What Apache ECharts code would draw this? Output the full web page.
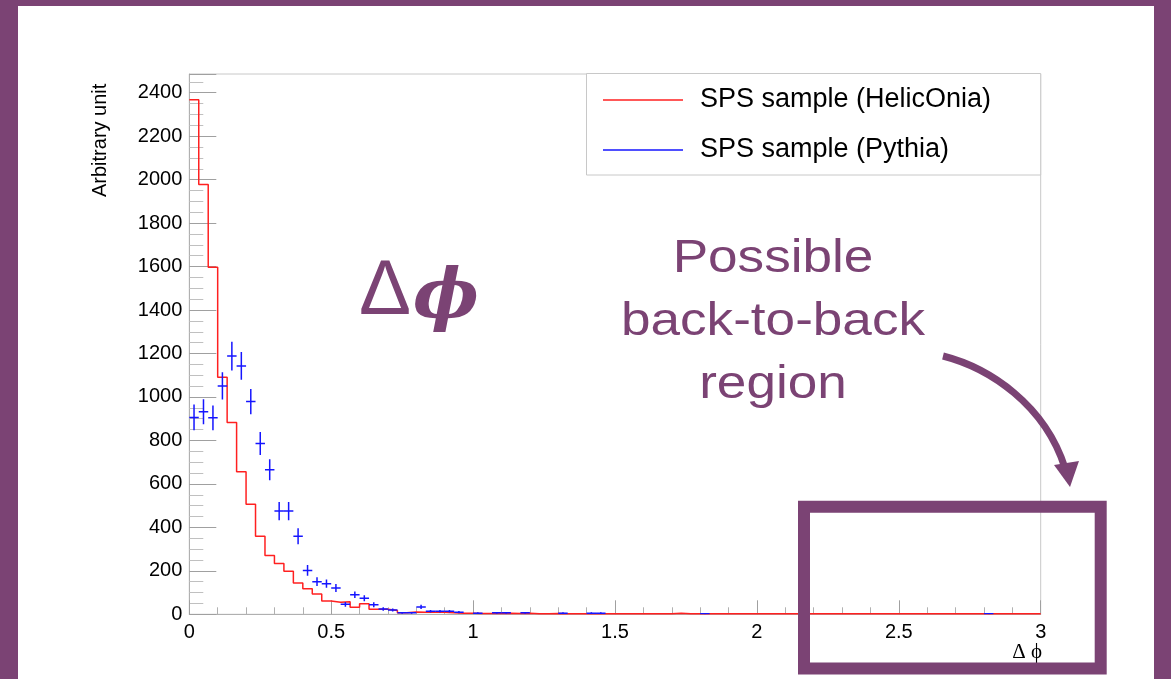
<!DOCTYPE html>
<html><head><meta charset="utf-8">
<script src="https://cdn.jsdelivr.net/npm/echarts/dist/echarts.min.js"></script>
<style>html,body{margin:0;padding:0;background:#fff}#c{width:1171px;height:679px}</style>
</head><body><div id="c"></div>
<script>
// ---- data ----
const xMin = 0, xMax = 3, nBins = 90;
const yMax = 2486;
const seriesNames = ['SPS sample (HelicOnia)', 'SPS sample (Pythia)'];
const helicOnia = [
  2368,1978,1597,1091,883,656,506,359,271,234,
  198,144,118,93,61,55,58,32,49,23,
  23,18,7,11,10,10,9,7,5,5,
  4,4,4,5,4,5,3,3,4,3,
  3,3,3,3,2,3,2,3,3,2,
  2,5,2,2,2,2,2,2,2,2,
  3,3,2,2,2,2,2,2,2,2,
  2,3,3,3,2,2,2,2,2,2,
  3,3,2,2,2,2,2,2,2,2];
const pythia = [
  906,932,904,1051,1188,1143,979,786,665,475,
  475,359,202,150,141,121,46,90,74,44,
  24,20,7,7,34,14,14,14,10,0,
  5,0,7,7,0,7,0,0,0,5,
  0,0,5,5,0,0,0,0,0,0,
  0,0,0,0,3,0,0,0,0,0,
  0,0,0,0,0,0,0,0,0,0,
  0,0,0,0,0,0,0,0,0,0,
  0,0,0,0,3,0,0,0,0,0];
const pythiaErr = [
  59,57,57,63,66,64,58,53,48,42,
  42,37,25,20,19,18,11,15,14,11,
  8,7,4,4,10,6,6,6,5,0,
  4,0,4,4,0,4,0,0,0,4,
  0,0,4,4,0,0,0,0,0,0,
  0,0,0,0,3,0,0,0,0,0,
  0,0,0,0,0,0,0,0,0,0,
  0,0,0,0,0,0,0,0,0,0,
  0,0,0,0,3,0,0,0,0,0];
const yAxisTitle = 'Arbitrary unit';
const xAxisTitle = 'Δ ϕ';
const bigLabel = ['Δ', 'ϕ'];
const noteText = 'Possible\nback-to-back\nregion';

// ---- build ----
const bw = (xMax - xMin) / nBins;
const redPts = helicOnia.map((v, i) => [xMin + i * bw, v]);
redPts.push([xMax, helicOnia[nBins - 1]]);
const bluePts = [];
pythia.forEach((v, i) => { if (v > 0) bluePts.push([xMin + (i + 0.5) * bw, v, pythiaErr[i]]); });

const PURPLE = '#7b4374';
const FONT = 'Liberation Sans, Arial, Helvetica, sans-serif';
const chart = echarts.init(document.getElementById('c'), null, {renderer: 'canvas'});
chart.setOption({
  animation: false,
  backgroundColor: '#fff',
  grid: {left: 189.3, right: 130.3, top: 74, bottom: 64.7, show: true, borderColor: '#c8c8c8', borderWidth: 1, backgroundColor: 'transparent'},
  xAxis: {
    type: 'value', min: xMin, max: xMax, interval: 0.5,
    axisLine: {show: true, onZero: false, lineStyle: {color: '#b0b0b0', width: 1}},
    axisTick: {show: true, inside: true, length: 14, lineStyle: {color: '#a0a0a0'}},
    minorTick: {show: true, splitNumber: 5, length: 7, lineStyle: {color: '#b0b0b0'}},
    splitLine: {show: false},
    axisLabel: {fontSize: 20, color: '#000', margin: 8, fontFamily: FONT, formatter: v => String(v)}
  },
  yAxis: {
    type: 'value', min: 0, max: yMax, interval: 200,
    axisLine: {show: true, lineStyle: {color: '#b0b0b0', width: 1}},
    axisTick: {show: true, inside: true, length: 27, lineStyle: {color: '#a0a0a0'}},
    minorTick: {show: true, splitNumber: 4, length: 14, lineStyle: {color: '#c0c0c0'}},
    splitLine: {show: false},
    axisLabel: {fontSize: 20, color: '#000', margin: 7, fontFamily: FONT, showMaxLabel: false, formatter: v => String(v)}
  },
  legend: {
    orient: 'vertical', left: 598, top: 77.5, itemWidth: 80, itemHeight: 1.5, itemGap: 15,
    icon: 'rect', selectedMode: false, z: 20,
    textStyle: {fontSize: 27, color: '#000', fontFamily: FONT, lineHeight: 30, padding: [5, 0, 0, 12]},
    data: seriesNames
  },
  series: [
    {
      name: seriesNames[0], type: 'line', step: 'end', data: redPts,
      symbol: 'none', showSymbol: false, z: 3,
      itemStyle: {color: '#ff2020'}, lineStyle: {color: '#ff2020', width: 1.5}
    },
    {
      name: seriesNames[1], type: 'custom', data: bluePts, z: 4, clip: true,
      itemStyle: {color: '#1515ff'},
      encode: {x: 0, y: 1},
      renderItem: function (params, api) {
        const xc = api.value(0), y = api.value(1), e = api.value(2);
        const l = api.coord([xc - bw / 2, y]), r = api.coord([xc + bw / 2, y]);
        const t = api.coord([xc, y + e]), b = api.coord([xc, Math.max(0, y - e)]);
        const st = {stroke: '#1515ff', lineWidth: 1.5};
        return {type: 'group', children: [
          {type: 'line', shape: {x1: l[0], y1: l[1], x2: r[0], y2: r[1]}, style: st},
          {type: 'line', shape: {x1: t[0], y1: t[1], x2: b[0], y2: b[1]}, style: st}
        ]};
      }
    }
  ],
  graphic: [
    {type: 'rect', shape: {x: 586.5, y: 73.5, width: 454.2, height: 101.5}, style: {fill: '#fff', stroke: '#c8c8c8', lineWidth: 1}, z: 5},
    {type: 'rect', shape: {x: 0, y: 0, width: 18, height: 679}, style: {fill: PURPLE}, z: 10},
    {type: 'rect', shape: {x: 1154, y: 0, width: 17, height: 679}, style: {fill: PURPLE}, z: 10},
    {type: 'rect', shape: {x: 0, y: 0, width: 1171, height: 6}, style: {fill: PURPLE}, z: 10},
    {type: 'text', x: 100, y: 197, rotation: Math.PI / 2, z: 10,
     style: {text: yAxisTitle, font: '20px ' + FONT, fill: '#000', align: 'left', verticalAlign: 'middle'}},
    {type: 'text', x: 1042, y: 652, z: 10,
     style: {text: xAxisTitle, font: '21px Liberation Serif, DejaVu Serif, serif', fill: '#000', align: 'right', verticalAlign: 'middle'}},
    {type: 'text', x: 359, y: 292, z: 10,
     style: {text: bigLabel[0], font: '78px ' + FONT, fill: PURPLE, align: 'left', verticalAlign: 'middle'}},
    {type: 'text', x: 413, y: 300, z: 10,
     style: {text: bigLabel[1], font: 'italic bold 70px DejaVu Serif, Liberation Serif, serif', fill: PURPLE, align: 'left', verticalAlign: 'middle'}},
    {type: 'text', x: 773, y: 322, scaleX: 1.13, z: 10,
     style: {text: noteText, font: '47px ' + FONT, lineHeight: 63, fill: PURPLE, align: 'center', verticalAlign: 'middle'}},
    {type: 'bezierCurve', z: 10,
     shape: {x1: 943, y1: 356, cpx1: 990, cpy1: 368, cpx2: 1045, cpy2: 405, x2: 1065, y2: 468},
     style: {stroke: PURPLE, lineWidth: 7, fill: null}},
    {type: 'polygon', z: 10, shape: {points: [[1054, 465], [1079, 461], [1070, 487]]}, style: {fill: PURPLE}},
    {type: 'rect', z: 10, shape: {x: 804, y: 506.7, width: 296.7, height: 161.8}, style: {fill: null, stroke: PURPLE, lineWidth: 12}}
  ]
});
</script></body></html>
